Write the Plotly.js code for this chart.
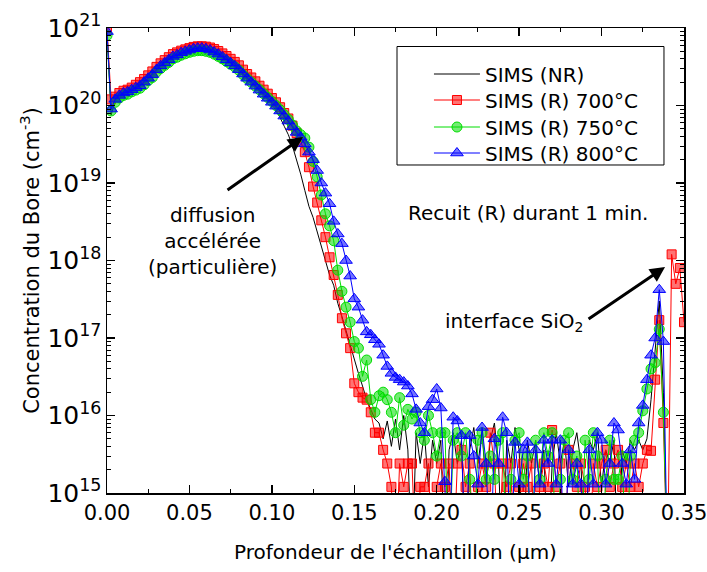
<!DOCTYPE html>
<html>
<head>
<meta charset="utf-8">
<script src="https://cdn.plot.ly/plotly-3.0.1.min.js"></script>
<style>html,body{margin:0;padding:0;background:#fff}#chart{width:707px;height:572px}</style>
</head>
<body>
<div id="chart"></div>
<script>
// Depth (µm)
const depth = [0,0.0025,0.005,0.0075,0.01,0.0125,0.015,0.0175,0.02,0.0225,0.025,0.0275,0.03,0.0325,0.035,0.0375,0.04,0.0425,0.045,0.0475,
0.05,0.0525,0.055,0.0575,0.06,0.0625,0.065,0.0675,0.07,0.0725,0.075,0.0775,0.08,0.0825,0.085,0.0875,0.09,0.0925,0.095,0.0975,
0.1,0.1025,0.105,0.1075,0.11,0.1125,0.115,0.1175,0.12,0.1225,0.125,0.1275,0.13,0.1325,0.135,0.1375,0.14,0.1425,0.145,0.1475,
0.15,0.1525,0.155,0.1575,0.16,0.1625,0.165,0.1675,0.17,0.1725,0.175,0.1775,0.18,0.1825,0.185,0.1875,0.19,0.1925,0.195,0.1975,
0.2,0.2025,0.205,0.2075,0.21,0.2125,0.215,0.2175,0.22,0.2225,0.225,0.2275,0.23,0.2325,0.235,0.2375,0.24,0.2425,0.245,0.2475,
0.25,0.2525,0.255,0.2575,0.26,0.2625,0.265,0.2675,0.27,0.2725,0.275,0.2775,0.28,0.2825,0.285,0.2875,0.29,0.2925,0.295,0.2975,
0.3,0.3025,0.305,0.3075,0.31,0.3125,0.315,0.3175,0.32,0.3225,0.325,0.3275,0.33,0.3325,0.335,0.3375,0.34,0.3425,0.345,0.3475,0.35];

// Concentration (cm^-3); 1e14 = below detection (drawn off the axis bottom)
const concNR = [9e20,7.5e19,1.15e20,1.28e20,1.38e20,1.43e20,1.52e20,1.62e20,1.71e20,1.9e20,
2.14e20,2.38e20,2.75e20,3.1e20,3.37e20,3.7e20,4.1e20,4.3e20,4.55e20,4.75e20,
4.95e20,5.1e20,5.2e20,5.2e20,5.1e20,4.95e20,4.65e20,4.35e20,4.05e20,3.7e20,
3.4e20,3.1e20,2.75e20,2.45e20,2.15e20,1.9e20,1.7e20,1.5e20,1.33e20,1.2e20,
1.05e20,8.7e19,7e19,5.4e19,4.2e19,3e19,2e19,1.3e19,8e18,5e18,
3.6e18,2.3e18,1.5e18,9.5e17,6.5e17,4.8e17,2.8e17,1.9e17,1.25e17,8e16,
5e16,3.5e16,2.4e16,1.6e16,1.2e16,9e15,8e15,5e15,8.5e15,4e15,
9e15,3.6e15,1e16,3.6e15,1e14,6e15,2.4e15,6e15,1.2e15,4.8e15,
2.4e15,4.8e15,1e14,3.6e15,6e15,2.4e15,4.8e15,1e14,3.6e15,7e15,
2.4e15,6e15,1.2e15,4.8e15,8e15,2.4e15,1e14,4.8e15,2.4e15,7e15,
3.6e15,1e14,4.8e15,2.4e15,4.8e15,1.2e15,3.6e15,1e14,2.4e15,6e15,
2.4e15,4.8e15,1.2e15,3.6e15,6e15,2.4e15,1e14,4.8e15,3.6e15,6e15,
1.2e15,3.6e15,2.4e15,4.8e15,1e14,3.6e15,2.4e15,4.8e15,3.6e15,4.8e15,
3.6e15,5e15,1.6e16,8e16,3e17,2e16,1e14];

const conc700 = [1e21,1.2e20,1.3e20,1.45e20,1.55e20,1.6e20,1.7e20,1.85e20,2.0e20,2.2e20,
2.45e20,2.75e20,3.15e20,3.5e20,3.85e20,4.2e20,4.6e20,4.85e20,5.1e20,5.3e20,
5.5e20,5.7e20,5.8e20,5.8e20,5.75e20,5.6e20,5.35e20,5.05e20,4.7e20,4.35e20,
4e20,3.65e20,3.3e20,2.9e20,2.55e20,2.3e20,2.05e20,1.8e20,1.6e20,1.42e20,
1.25e20,1.1e20,9.5e19,8e19,6.8e19,5.5e19,4.4e19,3.4e19,2.5e19,1.6e19,
9e18,5.6e18,3.3e18,2e18,1.1e18,6.5e17,3.6e17,1.8e17,1.15e17,7.4e16,
2.6e16,2e16,1.7e16,1.6e16,1.1e16,6e15,6e15,3.6e15,2.4e15,1.2e15,
1e14,2.4e15,1.2e15,2.4e15,2.4e15,1e14,1.2e15,1.2e15,2.4e15,1e14,
1.2e15,2.4e15,1.2e15,2.4e15,1e14,2.4e15,3.6e15,1.2e15,2.4e15,1e14,
1.2e15,2.4e15,1.2e15,6e15,2.4e15,1e14,2.4e15,1.2e15,2.4e15,1e14,
1.2e15,2.4e15,1.2e15,2.4e15,1e14,1.2e15,2.4e15,1.2e15,6.5e15,1.2e15,
2.4e15,1e14,3.6e15,2.4e15,1.2e15,2.4e15,1.2e15,1e14,2.4e15,1.2e15,
2.4e15,3.6e15,1.2e15,2.4e15,3.6e15,1.2e15,2.4e15,1.2e15,2.4e15,1.2e15,
2.4e15,3.6e15,3.5e15,2.9e16,1.7e17,8e15,1e14,1.2e18,5e17,8e17,1.6e17];

const conc750 = [8e20,8.5e19,1.1e20,1.25e20,1.35e20,1.4e20,1.5e20,1.58e20,1.67e20,1.85e20,
2.1e20,2.3e20,2.7e20,3e20,3.3e20,3.6e20,4e20,4.2e20,4.45e20,4.65e20,
4.85e20,5e20,5.1e20,5.1e20,5e20,4.85e20,4.6e20,4.3e20,4e20,3.7e20,
3.4e20,3.15e20,2.85e20,2.5e20,2.22e20,2e20,1.78e20,1.6e20,1.42e20,1.27e20,
1.13e20,1e20,8.8e19,7.6e19,6.6e19,5.6e19,4.7e19,4.2e19,3.8e19,2.9e19,
1.9e19,1.2e19,7e18,4e18,2.8e18,1.8e18,7.5e17,4e17,2.5e17,1.6e17,
9e16,7.4e16,3.2e16,5.2e16,1.6e16,1.1e16,1.8e16,2e16,1.6e16,1.1e16,
6e15,1.7e16,7.5e15,1.2e16,9e15,1.1e16,6e15,4.8e15,1e16,6e15,
3e15,6e15,6e15,1e14,4.8e15,6e15,3e15,6e15,1.5e15,1e14,
4.8e15,6e15,1.5e15,3e15,1.5e15,4.8e15,6e15,1e14,1.5e15,4.8e15,
6e15,1.5e15,3e15,1e14,4.8e15,1.5e15,6e15,3e15,6e15,1e14,
1.5e15,4.8e15,6e15,1.5e15,3e15,1e14,4.8e15,1.5e15,6e15,3e15,
1e14,1.5e15,4.8e15,1.5e15,1.5e15,3e15,1e14,3e15,4.8e15,6e15,
1.15e16,2.2e16,4e16,4.8e16,1.3e17,1.1e16,1e14];

const conc800 = [9e20,9e19,1.2e20,1.35e20,1.45e20,1.5e20,1.6e20,1.7e20,1.8e20,2.0e20,
2.25e20,2.5e20,2.9e20,3.25e20,3.55e20,3.9e20,4.3e20,4.5e20,4.8e20,5.0e20,
5.2e20,5.4e20,5.5e20,5.5e20,5.4e20,5.2e20,4.9e20,4.6e20,4.25e20,3.9e20,
3.55e20,3.25e20,2.9e20,2.55e20,2.25e20,2.0e20,1.78e20,1.58e20,1.4e20,1.24e20,
1.1e20,9.8e19,8.5e19,7.3e19,6.3e19,5.3e19,4.5e19,3.9e19,3.2e19,2.5e19,
2e19,1.45e19,1e19,7.4e18,5.4e18,3.2e18,2.2e18,1.65e18,1e18,6.3e17,
3.2e17,2.5e17,1.7e17,1.2e17,1.1e17,9.5e16,8.3e16,6e16,4.3e16,3.5e16,
3.1e16,2.9e16,2.7e16,2.4e16,1.9e16,1.2e16,8e15,6e15,1.3e16,1.6e16,
2.2e16,1.25e16,1.4e15,1e14,9.5e15,8.5e15,5.5e15,1e14,5.5e15,3e15,
1.3e15,7e15,2.4e15,1e14,5e15,2.4e15,9.5e15,6e15,1e14,4.5e15,
1.3e15,3.6e15,4.5e15,1e14,3.6e15,1.3e15,4.8e15,2.4e15,4.8e15,1.3e15,
4.8e15,1e14,3.6e15,1.3e15,2.4e15,1.3e15,1e14,3.6e15,1.3e15,6e15,
4.8e15,1.3e15,2.4e15,8e15,6.5e15,2.4e15,1.3e15,3.6e15,1.5e15,8e15,
1.35e16,2.9e16,6e16,1e17,4.2e17,9e16,1e14];

const seriesNames = ['SIMS (NR)','SIMS (R) 700°C','SIMS (R) 750°C','SIMS (R) 800°C'];
const FONT = 'DejaVu Sans, Verdana, sans-serif';

const traces = [
  {name: seriesNames[0], legend: 'legend', x: depth.slice(0, concNR.length), y: concNR, mode: 'lines',
   line: {color: '#000000', width: 1}},
  {name: seriesNames[1], legend: 'legend2', x: depth.slice(0, conc700.length), y: conc700, mode: 'lines+markers',
   line: {color: '#ff0000', width: 1},
   marker: {symbol: 'square', size: 9, color: 'rgba(255,0,0,0.55)', line: {color: '#ff0000', width: 1}}},
  {name: seriesNames[2], legend: 'legend3', x: depth.slice(0, conc750.length), y: conc750, mode: 'lines+markers',
   line: {color: '#00dd00', width: 1},
   marker: {symbol: 'circle', size: 10, color: 'rgba(0,221,0,0.55)', line: {color: '#00dd00', width: 1}}},
  {name: seriesNames[3], legend: 'legend4', x: depth.slice(0, conc800.length), y: conc800, mode: 'lines+markers',
   line: {color: '#0000ff', width: 1},
   marker: {symbol: 'triangle-up', size: 11, color: 'rgba(0,0,255,0.55)', line: {color: '#0000ff', width: 1}}}
];

function legendAt(ypx) {
  return {x: 0.558, y: (493 - ypx) / 465, xanchor: 'left', yanchor: 'middle', bgcolor: 'rgba(0,0,0,0)',
          borderwidth: 0, itemwidth: 46, font: {size: 20, family: FONT}};
}

const layout = {
  width: 707, height: 572,
  margin: {l: 107, r: 23, t: 28, b: 79},
  paper_bgcolor: '#fff', plot_bgcolor: '#fff',
  font: {family: FONT, color: '#000', size: 20},
  showlegend: true,
  legend: legendAt(74), legend2: legendAt(100), legend3: legendAt(127), legend4: legendAt(153),
  xaxis: {range: [0, 0.35], dtick: 0.05, tick0: 0, tickformat: '.2f', ticklabeloverflow: 'allow',
          ticks: 'inside', ticklen: 8, tickwidth: 1.5, tickcolor: '#000',
          showline: true, linewidth: 1.5, linecolor: '#000', mirror: 'ticks',
          showgrid: false, zeroline: false,
          minor: {ticks: 'inside', ticklen: 4, tickwidth: 1, tickcolor: '#000', dtick: 0.025, showgrid: false},
          tickfont: {size: 21, family: FONT},
          title: {text: "Profondeur de l'échantillon (µm)", font: {size: 20, family: FONT}, standoff: 21}},
  yaxis: {type: 'log', range: [15, 21], dtick: 1, exponentformat: 'power', showexponent: 'all',
          ticks: 'inside', ticklen: 8, tickwidth: 1.5, tickcolor: '#000',
          showline: true, linewidth: 1.5, linecolor: '#000', mirror: 'ticks',
          showgrid: false, zeroline: false,
          minor: {ticks: 'inside', ticklen: 4, tickwidth: 1, tickcolor: '#000', dtick: 'D1', showgrid: false},
          tickfont: {size: 20, family: FONT},
          title: {text: 'Concentration du Bore (cm<sup>-3</sup>)', font: {size: 21, family: FONT}, standoff: 2}},
  shapes: [
    {type: 'rect', xref: 'paper', yref: 'paper', x0: 0.5026, x1: 0.9653, y0: 0.7054, y1: 0.9602,
     line: {color: '#000', width: 1}, fillcolor: 'rgba(0,0,0,0)'}
  ],
  annotations: [
    {x: 0.0637, y: 18.252, xref: 'x', yref: 'y', showarrow: false,
     text: 'diffusion<br>accélérée<br>(particulière)', font: {size: 20, family: FONT}, align: 'center'},
    {x: 0.2554, y: 18.613, xref: 'x', yref: 'y', showarrow: false,
     text: 'Recuit (R) durant 1 min.', font: {size: 20, family: FONT}},
    {x: 0.2469, y: 17.206, xref: 'x', yref: 'y', showarrow: false,
     text: 'interface SiO<sub>2</sub>', font: {size: 20, family: FONT}},
    {x: 0.1189, y: 19.594, xref: 'x', yref: 'y', ax: 0.0722, ay: 18.897, axref: 'x', ayref: 'y',
     text: '', showarrow: true, arrowhead: 2, arrowsize: 1, arrowwidth: 3, arrowcolor: '#000', standoff: 0},
    {x: 0.3385, y: 17.916, xref: 'x', yref: 'y', ax: 0.2912, ay: 17.232, axref: 'x', ayref: 'y',
     text: '', showarrow: true, arrowhead: 2, arrowsize: 1, arrowwidth: 3, arrowcolor: '#000', standoff: 0}
  ]
};

Plotly.newPlot('chart', traces, layout, {displayModeBar: false, staticPlot: true});
</script>
</body>
</html>
